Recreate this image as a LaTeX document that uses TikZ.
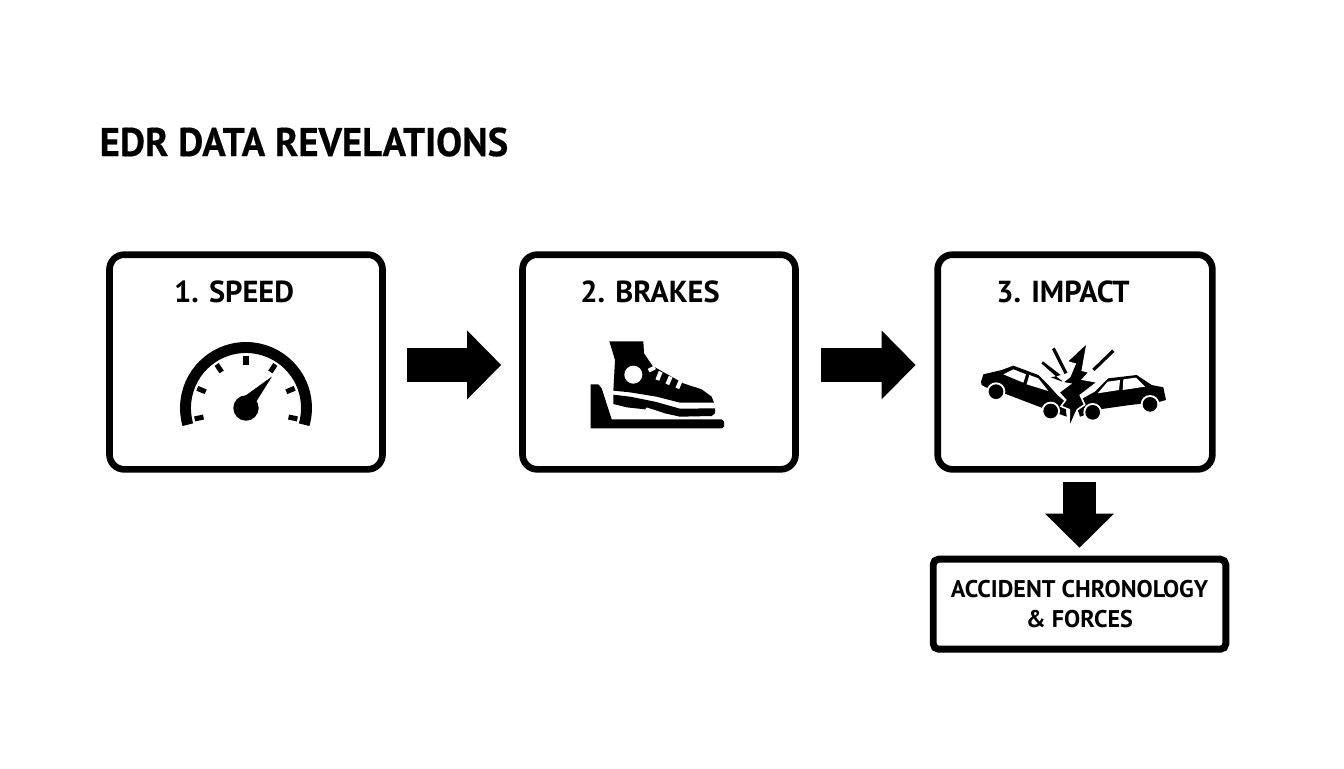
\documentclass[tikz,border=0pt]{standalone}
\usepackage{fontspec}
\setmainfont{PT Sans}
\newfontfamily\titlefont[FakeStretch=0.97,FakeBold=0.4]{PT Sans}
\usetikzlibrary{arrows.meta}
\tikzset{
  stagebox/.style={draw,line width=5pt,rounded corners=11pt,minimum width=204.7pt,minimum height=161pt,inner sep=0pt},
  resultbox/.style={draw,line width=5.2pt,rounded corners=4pt,minimum width=219.4pt,minimum height=67.5pt,inner sep=0pt,align=center,font=\bfseries\fontsize{18.1}{23}\selectfont},
  stagelabel/.style={font=\bfseries\fontsize{22.8}{26}\selectfont},
  flowarrow/.style={line width=25pt,-{Triangle[length=25.5pt,width=50pt]}},
  cutout/.style={white,line width=3pt},
  spark/.style={line width=2.4pt},
}
\begin{document}
\begin{tikzpicture}[x=0.75pt,y=-0.75pt]
  \useasboundingbox (0,0) rectangle (1344,768);
  \node[anchor=west,font=\titlefont\bfseries\fontsize{30}{36}\selectfont] (title) at (95,142) {EDR DATA REVELATIONS};
  % stages
  \node[stagebox] (speedbox) at (246,362) {};
  \node[stagebox] (brakesbox) at (659,362) {};
  \node[stagebox,minimum width=206pt] (impactbox) at (1075,362) {};
  \node[resultbox] (result) at (1079.5,604.2) {ACCIDENT CHRONOLOGY\\\& FORCES};
  \node[stagelabel] (speedlabel) at (234,292) {1. SPEED};
  \node[stagelabel] (brakeslabel) at (650,292) {2. BRAKES};
  \node[stagelabel] (impactlabel) at (1063,292) {3. IMPACT};
  % arrows
  \draw[flowarrow,shorten <=16pt,shorten >=13.5pt] ([yshift=-2.2pt]speedbox.east) -- ([yshift=-2.2pt]brakesbox.west);
  \draw[flowarrow,shorten <=16.5pt,shorten >=14pt] ([yshift=-2.2pt]brakesbox.east) -- ([yshift=-2.2pt]impactbox.west);
  \draw[flowarrow,shorten <=7.3pt,shorten >=6pt] (result.north |- impactbox.south) -- (result.north);
  % gauge
  \begin{scope}[shift={(246,408)}]
    \draw[line width=8.2pt] (-196:60.5) arc[start angle=-196,end angle=16,radius=60.5];
    \foreach \tickangle in {-192,-158,-124,-90,-56,-22,12}
      \draw[line width=3.8pt] (\tickangle:43.5) -- (\tickangle:52.5);
    \fill (0,0) circle[radius=12.7];
    \fill (26,-31.5) -- (10,-6) -- (-1,-12) -- cycle;
  \end{scope}
  % boot
  \begin{scope}[shift={(570,330)},scale=1/3]
    \fill (118,34) -- (220,34) -- (222,70) -- (248,108) -- (340,160) -- (395,178) -- (425,200) -- (432,218)
      -- (330,218) -- (260,200) -- (180,187) -- (130,182) -- (135,90) -- cycle;
    \fill (130,194) -- (180,200) -- (255,215) -- (330,236) -- (435,235) -- (435,250) -- (425,258) -- (330,260)
      -- (285,250) -- (230,232) -- (225,238) -- (170,232) -- (130,222) -- cycle;
    \fill (62,163) -- (85,163) -- (95,175) -- (125,268) -- (455,268) -- (462,275) -- (462,290) -- (455,295) -- (62,295) -- cycle;
    \fill[white] (190,134) circle[radius=27];
    \draw[cutout] (236,122) -- (255,112);
    \draw[cutout] (262,150) -- (272,125);
    \draw[cutout] (292,163) -- (302,140);
    \draw[cutout] (322,175) -- (332,152);
  \end{scope}
  % cars
  \begin{scope}[shift={(970,335)},scale=1/3]
    \fill (33,140) -- (40,118) -- (95,105) -- (130,92) -- (205,120) -- (235,150) -- (262,180) -- (285,200) -- (290,245)
      -- (215,218) -- (110,178) -- (50,158) -- (35,150) -- cycle;
    \fill (320,215) -- (330,195) -- (375,170) -- (415,130) -- (500,120) -- (545,150) -- (580,157) -- (588,195)
      -- (570,200) -- (480,210) -- (395,222) -- (330,245) -- cycle;
    \fill[white] (100,118) -- (130,103) -- (168,118) -- (160,143) -- cycle;
    \fill[white] (178,120) -- (205,130) -- (235,168) -- (170,148) -- cycle;
    \fill[white] (383,175) -- (413,140) -- (450,135) -- (447,165) -- cycle;
    \fill[white] (460,133) -- (498,128) -- (525,155) -- (458,165) -- cycle;
    \foreach \wheelx/\wheely in {78/170,242/228,368/232,540/208} {
      \fill[white] (\wheelx,\wheely) circle[radius=28];
      \fill (\wheelx,\wheely) circle[radius=22];
    }
    \draw[spark] (250,40) -- (288,115);
    \draw[spark] (430,47) -- (370,105);
    \fill (214,85) -- (219,79) -- (272,120) -- (258,124) -- (282,142) -- (243,127) -- (258,124) -- cycle;
    \fill[draw=white,line width=1.2pt] (352,22) -- (290,80) -- (315,87) -- (299,125) -- (276,143) -- (300,147)
      -- (266,172) -- (287,195) -- (273,214) -- (298,224) -- (297,280) -- (322,224) -- (344,209) -- (331,181)
      -- (383,141) -- (338,133) -- (358,111) -- (337,106) -- cycle;
  \end{scope}
\end{tikzpicture}
\end{document}
